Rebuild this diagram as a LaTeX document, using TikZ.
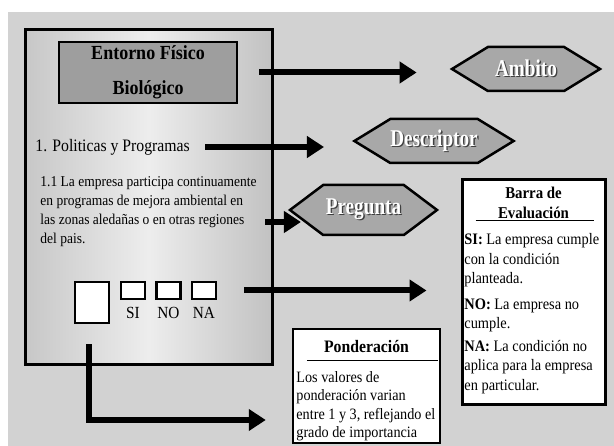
\documentclass[tikz,border=0pt]{standalone}
\usepackage{fontspec}
\setmainfont{Liberation Serif}[FakeStretch=0.9]
\newfontfamily\hexfont{Liberation Serif}[FakeStretch=0.8]
\usetikzlibrary{arrows.meta,shapes.symbols,calc}

\definecolor{fondo}{HTML}{D2D2D2}
\definecolor{gristit}{HTML}{9E9E9E}
\definecolor{grishexa}{HTML}{A8A8A8}
\newcommand{\sombra}[1]{\rlap{\kern1.4pt\raisebox{-1.4pt}{\color{black!75}#1}}{\color{white}#1}}

\tikzset{
  flecha/.style={line width=6pt,-{Triangle[length=17pt,width=21pt]}},
  hexa/.style={signal,signal to=west and east,draw,line width=2.5pt,fill=grishexa,
    inner sep=0pt,minimum width=148pt,minimum height=44pt,
    font=\hexfont\bfseries\fontsize{24}{24}\selectfont},
  caja/.style={draw,line width=2.5pt,fill=white,inner sep=0pt},
  texto/.style={inner sep=0pt,align=left,font=\fontsize{15}{19}\selectfont},
  titulo/.style={inner sep=0pt,align=center,font=\bfseries\fontsize{16.5}{20}\selectfont},
  regla/.style={line width=1.5pt}
}

\begin{document}
\begin{tikzpicture}[x=1pt,y=-1pt,line width=0.8pt]
  \useasboundingbox (0,0) rectangle (614,446);
  \fill[fondo] (8,12) rectangle (614,446);
  % ficha
  \node[draw,line width=3pt,inner sep=0pt,minimum width=247pt,minimum height=335pt,
    left color=black!22,right color=black!24,middle color=black!7] (ficha) at (148.5,197.5) {};
  \node[draw,line width=2.5pt,fill=gristit,minimum width=178pt,minimum height=61pt,
    align=center,font=\bfseries\fontsize{20}{35}\selectfont] (entorno) at (148,72.5)
    {Entorno Físico\\Biológico};
  \node[anchor=west,inner sep=0pt,font=\fontsize{17.5}{20}\selectfont] (politicas) at (35,147)
    {1. Politicas y Programas};
  \node[texto,anchor=north west] (parrafo) at (40,176)
    {1.1 La empresa participa continuamente\\en programas de mejora ambiental en\\
     las zonas aledañas o en otras regiones\\del pais.};
  % casillas
  \node[caja,minimum width=34pt,minimum height=41pt] (cuadro) at (92,302.5) {};
  \node[caja,minimum width=24pt,minimum height=17pt] (si) at (133,290.5) {};
  \node[caja,minimum width=24pt,minimum height=17pt] (no) at (168.5,290.5) {};
  \node[caja,minimum width=24pt,minimum height=17pt] (na) at (204,290.5) {};
  \node[inner sep=0pt,font=\fontsize{17}{17}\selectfont] (tsi) at (133,313) {SI};
  \node[inner sep=0pt,font=\fontsize{17}{17}\selectfont] (tno) at (168.5,313) {NO};
  \node[inner sep=0pt,font=\fontsize{17}{17}\selectfont] (tna) at (204,313) {NA};
  % etiquetas
  \node[hexa,signal pointer angle=63] (ambito) at (526,69) {\sombra{Ambito}};
  \node[hexa,signal pointer angle=63] (descriptor) at (434,141) {\sombra{Descriptor}};
  \node[hexa,signal pointer angle=74,minimum width=147pt,minimum height=50pt] (pregunta)
    at (363.5,210) {\sombra{Pregunta}};
  % barra de evaluacion
  \node[caja,line width=3pt,minimum width=143pt,minimum height=225pt] (barra) at (533.5,292.5) {};
  \node[titulo] (barratit) at (533.5,203) {Barra de\\Evaluación};
  \draw[regla] ($(barra.north west)+(15,42)$) -- ($(barra.north east)+(-13,42)$);
  \node[texto,anchor=north west,font=\fontsize{16}{19.5}\selectfont] (barratxt) at (464,233)
    {\textbf{SI:} La empresa cumple\\con la condición\\planteada.\\[6pt]
     \textbf{NO:} La empresa no\\cumple.\\[3pt]
     \textbf{NA:} La condición no\\aplica para la empresa\\en particular.};
  % ponderacion
  \node[caja,minimum width=147pt,minimum height=114pt] (ponderacion) at (366.5,386) {};
  \node[titulo,font=\bfseries\fontsize{17.5}{20}\selectfont] (pondtit) at (366.5,347) {Ponderación};
  \draw[regla] ($(ponderacion.north west)+(15,33)$) -- ($(ponderacion.north east)+(-3,33)$);
  \node[texto,anchor=north west,font=\fontsize{15.8}{18.5}\selectfont] (pondtxt) at (296,371)
    {Los valores de\\ponderación varian\\entre 1 y 3, reflejando el\\grado de importancia};
  % flechas
  \draw[flecha,shorten <=21pt,shorten >=33pt] (entorno.east) -- (entorno.east -| ambito.west);
  \draw[flecha,shorten <=15pt,shorten >=28pt] (politicas.east) -- (politicas.east -| descriptor.west);
  \coordinate (c3) at (265,222);
  \draw[flecha,shorten >=-13pt] (c3) -- (c3 -| pregunta.west);
  \draw[flecha,shorten <=27pt,shorten >=34pt] (na.east) -- (na.east -| barra.west);
  \coordinate (c5) at (89,420);
  \draw[flecha,shorten >=26pt] ([xshift=-3pt,yshift=-20pt]cuadro.south) -- (c5) -- (c5 -| ponderacion.west);
\end{tikzpicture}
\end{document}
